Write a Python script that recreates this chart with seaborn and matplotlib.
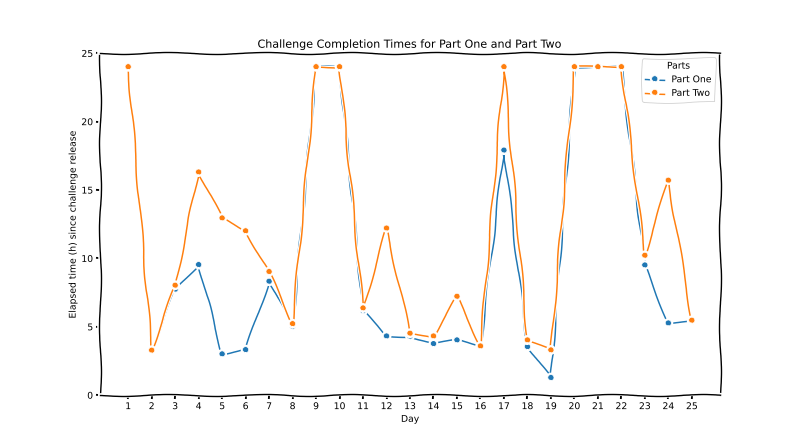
import matplotlib
matplotlib.use("Agg")
import matplotlib.pyplot as plt
import pandas as pd
import seaborn as sns

# Values (hours since release, capped at 24)
days = list(range(1, 26))
part_one = [24.0, 3.25, 7.73, 9.53, 3.0, 3.31, 8.31, 5.02, 24.0, 24.0,
            6.16, 4.31, 4.29, 3.75, 4.02, 3.58, 17.9, 3.53, 1.27, 24.0,
            24.0, 24.0, 9.5, 5.26, 5.36]
part_two = [24.0, 3.27, 8.02, 16.3, 12.94, 12.0, 9.02, 5.21, 24.0, 24.0,
            6.36, 12.2, 4.51, 4.31, 7.21, 3.58, 24.0, 4.02, 3.29, 24.0,
            24.0, 24.0, 10.21, 15.7, 5.46]
part_names = ["Part One", "Part Two"]

df = pd.DataFrame({
    "Day": days * 2,
    "Elapsed": part_one + part_two,
    "Parts": [part_names[0]] * len(days) + [part_names[1]] * len(days),
})

DPI = 800 / 12

with plt.xkcd():
    plt.rcParams["font.family"] = ["DejaVu Sans"]
    plt.rcParams["lines.linewidth"] = 1.6
    plt.rcParams["xtick.major.size"] = 4
    plt.rcParams["ytick.major.size"] = 4
    plt.rcParams["xtick.major.width"] = 2
    plt.rcParams["ytick.major.width"] = 2
    fig, ax = plt.subplots(figsize=(12, 6.66), dpi=DPI)
    sns.lineplot(data=df, x="Day", y="Elapsed", hue="Parts", marker="o",
                 markersize=6, ax=ax)
    ax.set_ylim(0, 25)
    ax.set_xticks(days)
    ax.tick_params(labelsize=10)
    ax.set_title("Challenge Completion Times for Part One and Part Two", fontsize=12)
    ax.set_xlabel("Day", fontsize=10)
    ax.set_ylabel("Elapsed time (h) since challenge release", fontsize=10)
    ax.legend(title="Parts", loc="upper right", fontsize=10, title_fontsize=10)
    fig.savefig("out.png", dpi=DPI)
